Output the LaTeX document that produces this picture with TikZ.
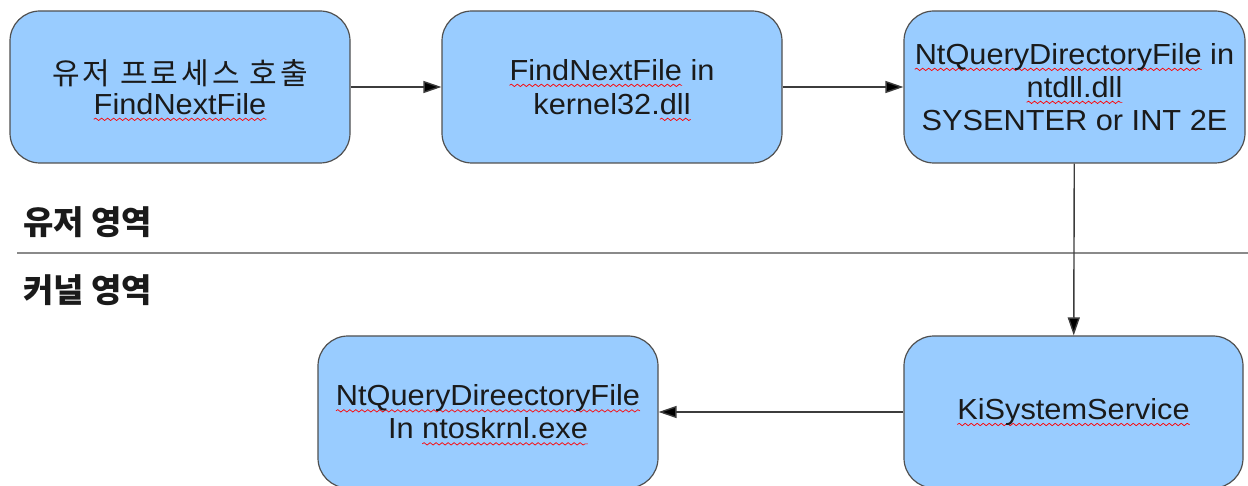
\documentclass[tikz,border=0pt]{standalone}
\usepackage{fontspec}
\setmainfont{Liberation Sans}[FakeStretch=1.06]
\newfontfamily\kr{Noto Sans CJK KR}
\usetikzlibrary{arrows.meta,decorations.pathmorphing}

\definecolor{boxfill}{HTML}{99CCFF}
\definecolor{boxline}{HTML}{505050}
\definecolor{ink}{HTML}{1A1A1A}
\definecolor{wire}{HTML}{3C3C3C}
\definecolor{rule}{HTML}{8A8A8A}

% red wavy underline below a word
\newlength\wavewd
\newcommand\wavy[1]{\settowidth\wavewd{#1}%
  {\tikz[overlay]\draw[sharp corners,red,line width=0.7pt,decorate,
     decoration={snake,amplitude=1.2pt,segment length=6pt}]
     (0pt,-5pt) -- ++(\wavewd,0pt);}#1}

\begin{document}
\begin{tikzpicture}[x=1pt,y=-1pt,
  procbox/.style={draw=boxline,line width=1.2pt,fill=boxfill,
    rounded corners=30pt,minimum width=340pt,minimum height=152pt,
    inner sep=0pt,align=center,text=ink,
    font=\fontsize{29}{34}\selectfont},
  flow/.style={draw=wire,line width=1.4pt,
    -{Triangle[length=18pt,width=12pt,fill=black]}},
  region/.style={anchor=west,inner sep=0pt,text=ink,
    font=\kr\bfseries\fontsize{33}{38}\selectfont}]
\useasboundingbox (0,0) rectangle (1248,486);

% user-mode boxes
\node[procbox] (user) at (180,87)
  {{\kr\addfontfeatures{LetterSpace=10}\fontsize{30}{34}\selectfont 유저 프로세스 호출}\\[-4pt]\wavy{FindNextFile}};
\node[procbox] (k32) at (612,87)
  {\wavy{FindNextFile} in\\kernel32.\wavy{dll}};
\node[procbox,minimum width=341pt] (ntdll) at (1074.5,87)
  {\wavy{NtQueryDirectoryFile} in\\[-1pt]\wavy{ntdll.dll}\\[-1pt]SYSENTER or INT 2E};

% kernel-mode boxes
\node[procbox,minimum width=339pt] (kiss) at (1073.5,412)
  {\wavy{KiSystemService}};
\node[procbox] (ntos) at (488,412)
  {\wavy{NtQueryDireectoryFile}\\[-1pt]In \wavy{ntoskrnl.exe}};

% user / kernel boundary
\coordinate (ruleL) at (17,253);
\coordinate (ruleR) at (1248,253);
\draw[rule,line width=1.4pt] (ruleL) -- (ruleR);
\node[region] (ulabel) at (23,222) {유저 영역};
\node[region] (klabel) at (23,290) {커널 영역};

% call flow
\draw[flow] (user) -- (k32);
\draw[flow] (k32) -- (ntdll);
\draw[flow] (ntdll) -- (kiss);
\draw[flow] (kiss) -- (ntos);
\end{tikzpicture}
\end{document}
